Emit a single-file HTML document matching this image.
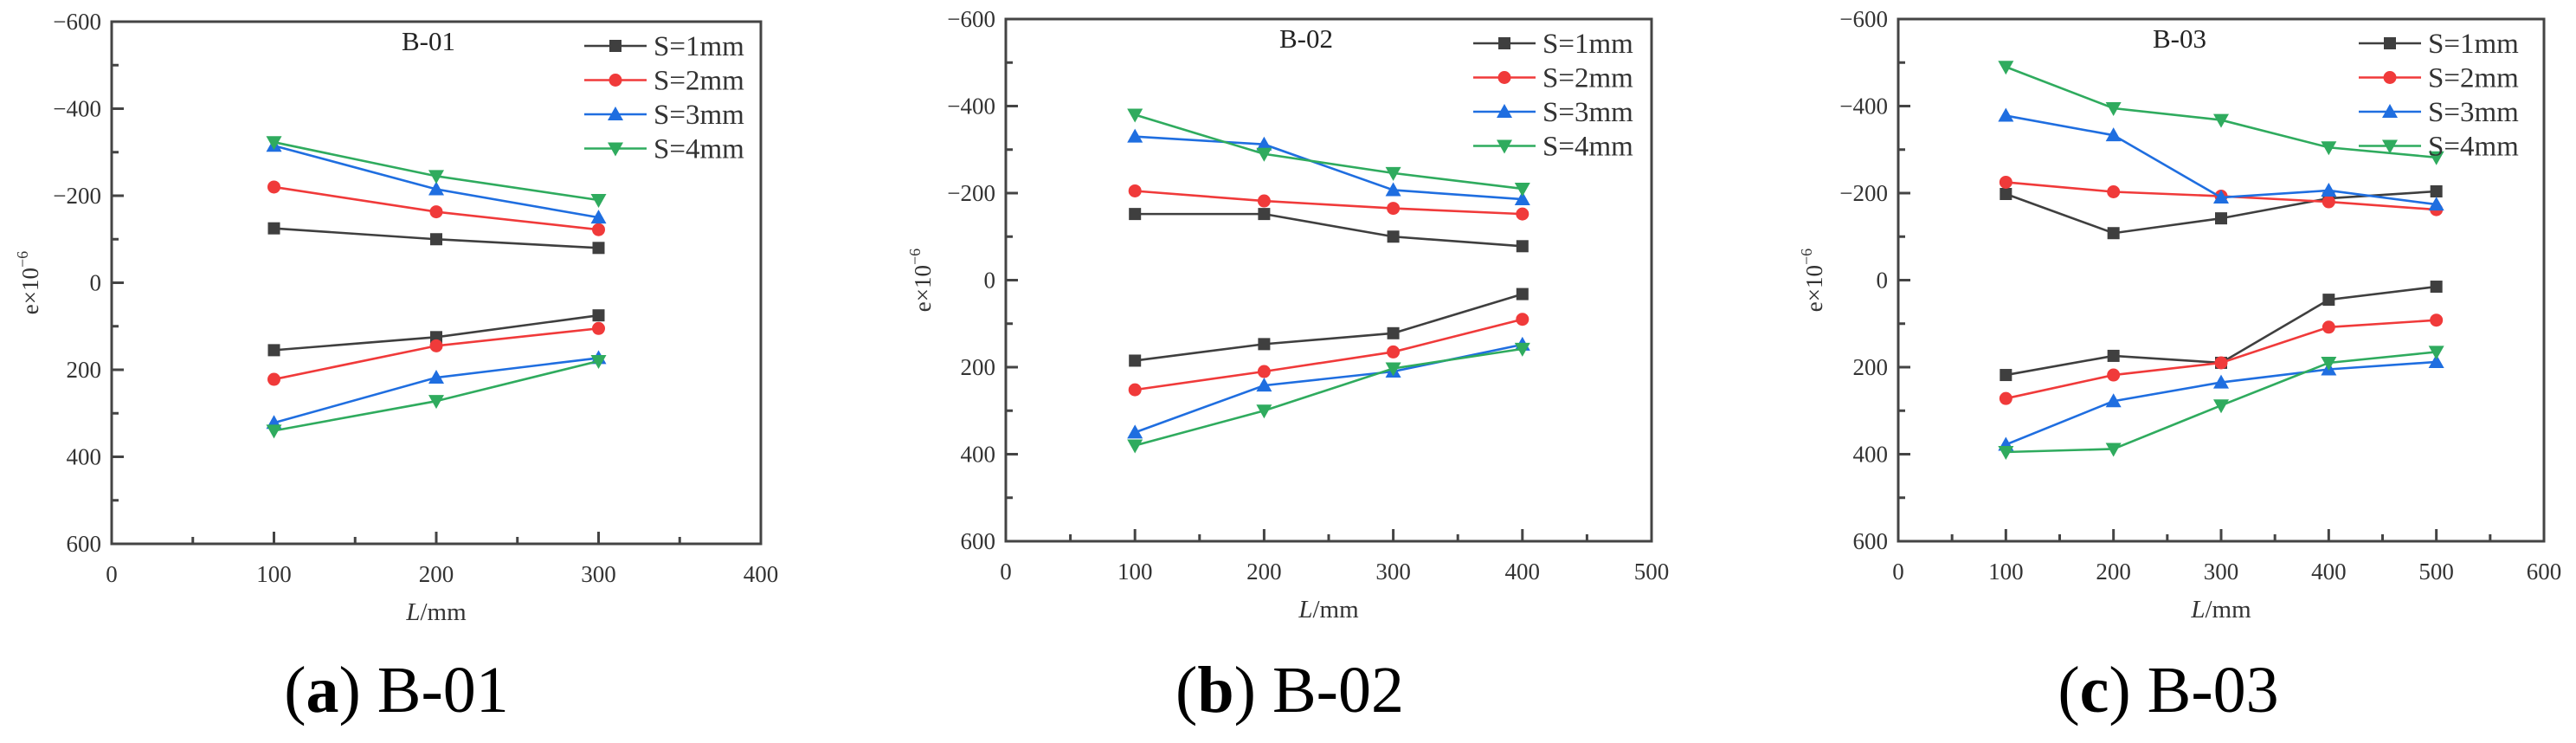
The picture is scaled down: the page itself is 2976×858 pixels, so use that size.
<!DOCTYPE html>
<html><head><meta charset="utf-8">
<style>
html,body{margin:0;padding:0;background:#fff;}
svg{display:block;font-family:"Liberation Serif",serif;}
</style></head>
<body>
<svg id="fig" width="2976" height="858" viewBox="0 0 2976 858" xmlns="http://www.w3.org/2000/svg"></svg>
<script>
// ---- data ----
const seriesNames = ["S=1mm","S=2mm","S=3mm","S=4mm"];
const yTicks = [-600,-400,-200,0,200,400,600];

const b01X = [100,200,300];
const b01Upper = [[-125,-100,-80],[-220,-163,-122],[-315,-215,-150],[-323,-245,-190]];
const b01Lower = [[155,125,75],[222,145,105],[322,218,173],[340,272,180]];
const b01XTicks = [0,100,200,300,400];

const b02X = [100,200,300,400];
const b02Upper = [[-152,-152,-100,-78],[-205,-182,-165,-152],[-330,-312,-207,-186],[-380,-290,-246,-210]];
const b02Lower = [[185,147,122,32],[252,210,165,90],[350,242,210,148],[380,300,203,158]];
const b02XTicks = [0,100,200,300,400,500];

const b03X = [100,200,300,400,500];
const b03Upper = [[-198,-108,-142,-188,-204],[-225,-203,-193,-180,-162],[-378,-333,-190,-206,-174],[-490,-395,-368,-305,-282]];
const b03Lower = [[218,174,190,45,15],[272,218,190,108,92],[378,278,235,205,188],[395,388,288,190,165]];
const b03XTicks = [0,100,200,300,400,500,600];

const colors = ["#3f3f3f","#f03a3a","#1f6ee0","#2fab5e"];
const markers = ["square","circle","up","down"];

const NS = "http://www.w3.org/2000/svg";
const svg = document.getElementById("fig");
function el(tag, attrs, parent){
  const e = document.createElementNS(NS, tag);
  for (const k in attrs) e.setAttribute(k, attrs[k]);
  (parent||svg).appendChild(e);
  return e;
}
function marker(g, type, x, y, c){
  let m;
  if (type==="square") m = el("rect",{x:x-7,y:y-7,width:14,height:14,fill:c},g);
  else if (type==="circle") m = el("circle",{cx:x,cy:y,r:7.5,fill:c},g);
  else if (type==="up") m = el("polygon",{points:`${x},${y-9} ${x+9},${y+7} ${x-9},${y+7}`,fill:c},g);
  else m = el("polygon",{points:`${x},${y+9} ${x+9},${y-7} ${x-9},${y-7}`,fill:c},g);
  return m;
}

function drawChart(cfg){
  const {id,x0,x1,y0,y1,xMax,xs,upper,lower,xTicks,title,titleX,legX,ylabX,caption,capBold,capX} = cfg;
  const g = el("g",{});
  
  
  const sx = v => x0 + (x1-x0)*v/xMax;
  const sy = v => y0 + (y1-y0)*(v+600)/1200;
  const frame = el("rect",{x:x0,y:y0,width:x1-x0,height:y1-y0,fill:"none",stroke:"#444","stroke-width":3},g);
  
  
  for (let v=-600; v<=600; v+=100){
    const major = v%200===0;
    el("line",{x1:x0,x2:x0+(major?14:8),y1:sy(v),y2:sy(v),stroke:"#444","stroke-width":3},g);
  }
  yTicks.forEach(v=>{
    const t = el("text",{x:x0-12,y:sy(v)+9,"text-anchor":"end","font-size":27,fill:"#333"},g);
    t.textContent = v<0 ? "\u2212"+Math.abs(v) : String(v);
    
    
  });
  const step = 50;
  for (let v=0; v<=xMax; v+=step){
    const major = v%100===0;
    el("line",{x1:sx(v),x2:sx(v),y1:y1,y2:y1-(major?14:8),stroke:"#444","stroke-width":3},g);
  }
  xTicks.forEach(v=>{
    const t = el("text",{x:sx(v),y:y1+44,"text-anchor":"middle","font-size":27,fill:"#333"},g);
    t.textContent = String(v);
    
    
  });
  const xt = el("text",{x:(x0+x1)/2,y:y1+88,"text-anchor":"middle","font-size":29,fill:"#333"},g);
  xt.innerHTML = '<tspan font-style="italic">L</tspan>/mm';
  
  
  const yt = el("text",{x:0,y:0,"text-anchor":"middle","font-size":27,fill:"#333",transform:`translate(${ylabX},${sy(0)}) rotate(-90)`},g);
  yt.innerHTML = 'e×10<tspan dy="-12" font-size="18">\u22126</tspan>';
  
  
  const tt = el("text",{x:titleX,y:y0+33,"text-anchor":"middle","font-size":31,fill:"#222"},g);
  tt.textContent = title;
  
  
  [upper, lower].forEach((set, si)=>{
    set.forEach((vals, k)=>{
      const pts = vals.map((v,i)=>`${sx(xs[i])},${sy(v)}`).join(" ");
      const pl = el("polyline",{points:pts,fill:"none",stroke:colors[k],"stroke-width":2.6},g);
      
      
      vals.forEach((v,i)=>{
        const m = marker(g, markers[k], sx(xs[i]), sy(v), colors[k]);
        
        
      });
    });
  });
  seriesNames.forEach((name,k)=>{
    const ly = y0 + 28 + k*39.5;
    const lg = el("g",{},g);
    
    
    el("line",{x1:legX,x2:legX+72,y1:ly,y2:ly,stroke:colors[k],"stroke-width":2.6},lg);
    marker(lg, markers[k], legX+36, ly, colors[k]);
    const lt = el("text",{x:legX+80,y:ly+11,"font-size":33,fill:"#333"},lg);
    lt.textContent = name;
  });
  const ct = el("text",{x:capX,y:822,"text-anchor":"middle","font-size":76,fill:"#000"},g);
  ct.innerHTML = '(<tspan font-weight="bold">'+capBold+'</tspan>) '+caption;
  
  
}

drawChart({id:"b01",x0:129,x1:879,y0:25,y1:628,xMax:400,xs:b01X,upper:b01Upper,lower:b01Lower,xTicks:b01XTicks,title:"B-01",titleX:495,legX:675,ylabX:44,caption:"B-01",capBold:"a",capX:458});
drawChart({id:"b02",x0:1162,x1:1908,y0:22,y1:625,xMax:500,xs:b02X,upper:b02Upper,lower:b02Lower,xTicks:b02XTicks,title:"B-02",titleX:1509,legX:1702,ylabX:1075,caption:"B-02",capBold:"b",capX:1490});
drawChart({id:"b03",x0:2193,x1:2939,y0:22,y1:625,xMax:600,xs:b03X,upper:b03Upper,lower:b03Lower,xTicks:b03XTicks,title:"B-03",titleX:2518,legX:2725,ylabX:2105,caption:"B-03",capBold:"c",capX:2505});
</script>
</body></html>
